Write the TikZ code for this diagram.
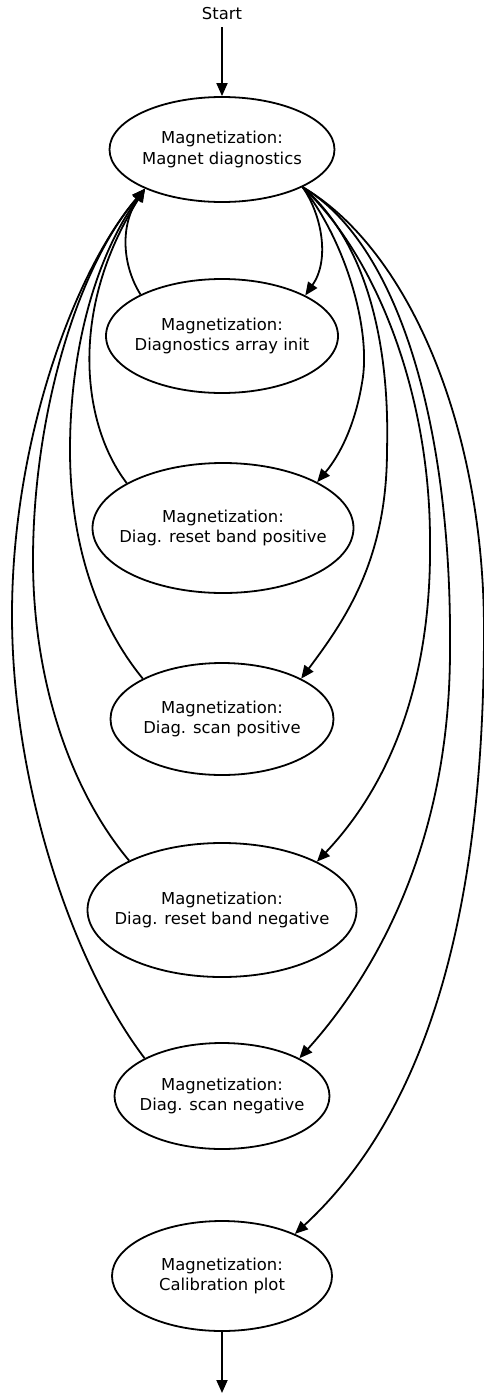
\documentclass[tikz,border=0pt]{standalone}
\usepackage{fontspec}
\setmainfont{DejaVu Sans}
\usetikzlibrary{arrows.meta,shapes.geometric}
\begin{document}
\begin{tikzpicture}[x=1pt,y=-1pt,
  ell/.style={draw, ellipse, line width=1.8pt, inner sep=0pt},
  txt/.style={align=center, inner sep=0pt, font=\fontsize{16.4}{20.5}\selectfont},
  edge/.style={line width=1.8pt, -{Triangle[length=13pt,width=11pt]}},
]
\useasboundingbox (0,0) rectangle (484,1395);

% nodes
\node[txt] (start) at (222,14) {Start};
\node[ell, minimum width=225pt, minimum height=105pt] (n1) at (222,149.5) {};
\node[txt] (t1) at (n1) {Magnetization:\\Magnet diagnostics};
\node[ell, minimum width=232pt, minimum height=114pt] (n2) at (222,336) {};
\node[txt] (t2) at (n2) {Magnetization:\\Diagnostics array init};
\node[ell, minimum width=261pt, minimum height=130pt] (n3) at (223,528) {};
\node[txt] (t3) at (n3) {Magnetization:\\Diag. reset band positive};
\node[ell, minimum width=223pt, minimum height=112pt] (n4) at (222,719) {};
\node[txt] (t4) at (n4) {Magnetization:\\Diag. scan positive};
\node[ell, minimum width=269pt, minimum height=134pt] (n5) at (222,910) {};
\node[txt] (t5) at (n5) {Magnetization:\\Diag. reset band negative};
\node[ell, minimum width=215pt, minimum height=106pt] (n6) at (222,1096) {};
\node[txt] (t6) at (n6) {Magnetization:\\Diag. scan negative};
\node[ell, minimum width=220pt, minimum height=110pt] (n7) at (222,1276) {};
\node[txt] (t7) at (n7) {Magnetization:\\Calibration plot};
\coordinate (end) at (222,1393);

% straight edges
\draw[edge, shorten <=7pt] (start) -- (n1);
\draw[edge] (n7) -- (end);

% forward edges
\draw[edge] (n1.-25) .. controls (322,215) and (330,260) .. (n2.26);
\draw[edge] (n1.-25) .. controls (345,240) and (372,330) .. (362,383)
            .. controls (355,425) and (340,455) .. (n3.26);
\draw[edge] (n1.-25) .. controls (365,240) and (390,340) .. (387,450)
            .. controls (387,560) and (345,620) .. (n4.27);
\draw[edge] (n1.-25) .. controls (380,260) and (430,400) .. (430,540)
            .. controls (432,690) and (385,790) .. (n5.27);
\draw[edge] (n1.-25) .. controls (400,245) and (452,430) .. (450,650)
            .. controls (450,850) and (370,980) .. (n6.26);
\draw[edge] (n1.-25) .. controls (410,250) and (484,430) .. (484,630)
            .. controls (484,880) and (440,1100) .. (n7.30);

% backward edges
\draw[edge] (n2.153) .. controls (122,265) and (120,225) .. (n1.207);
\draw[edge] (n3.155) .. controls (82,425) and (68,310) .. (n1.207);
\draw[edge] (n4.153) .. controls (95,620) and (70,540) .. (70,450)
            .. controls (70,340) and (100,250) .. (n1.207);
\draw[edge] (n5.152) .. controls (70,790) and (33,680) .. (33,560)
            .. controls (33,420) and (75,270) .. (n1.207);
\draw[edge] (n6.154) .. controls (70,960) and (12,780) .. (12,615)
            .. controls (12,440) and (75,270) .. (n1.207);
\end{tikzpicture}
\end{document}
